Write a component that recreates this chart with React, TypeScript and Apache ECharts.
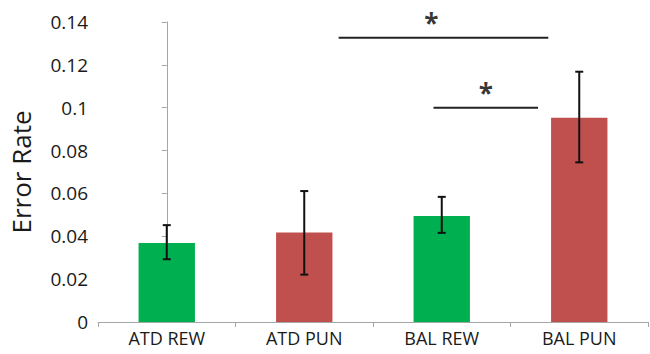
import React, { useEffect, useRef } from "react";
import * as echarts from "echarts";

const categories = ["ATD REW", "ATD PUN", "BAL REW", "BAL PUN"];
const means = [0.0369, 0.0418, 0.0495, 0.0953];
const errLow = [0.0293, 0.0221, 0.0416, 0.0745];
const errHigh = [0.0452, 0.0611, 0.0584, 0.1168];
const barColors = ["#00B050", "#C0504D", "#00B050", "#C0504D"];
const yTicks = { min: 0, max: 0.14, interval: 0.02 };
// significance brackets: [xStart, xEnd, y] in category-index units
const sigLines = [
  [1.25, 2.775, 0.1327],
  [1.94, 2.7, 0.1],
];
const sigStars = [
  [1.925, 0.1327],
  [2.32, 0.1],
];

const FONT = "Open Sans";

export default function App() {
  const ref = useRef<HTMLDivElement>(null);
  useEffect(() => {
    if (!ref.current) return;
    const chart = echarts.init(ref.current, null, { renderer: "svg" });
    const option: any = {
      animation: false,
      backgroundColor: "#ffffff",
      grid: { left: 97, right: 2, top: 22, bottom: 32, containLabel: false },
      xAxis: [
        {
          type: "category",
          data: categories,
          axisLine: { lineStyle: { color: "#A6A6A6", width: 1 } },
          axisTick: { show: true, length: 5, lineStyle: { color: "#A6A6A6" } },
          axisLabel: { color: "#1a1a1a", fontSize: 18, fontFamily: FONT, margin: 7 },
        },
        { type: "value", min: -0.5, max: 3.5, show: false },
      ],
      yAxis: {
        type: "value",
        min: yTicks.min,
        max: yTicks.max,
        interval: yTicks.interval,
        name: "Error Rate",
        nameLocation: "middle",
        nameGap: 64,
        nameTextStyle: { color: "#1a1a1a", fontSize: 26, fontFamily: FONT },
        axisLine: { show: true, lineStyle: { color: "#A6A6A6" } },
        axisTick: { show: true, length: 5, lineStyle: { color: "#A6A6A6" } },
        splitLine: { show: false },
        axisLabel: {
          color: "#1a1a1a",
          fontSize: 19,
          fontFamily: FONT,
          margin: 10,
          formatter: (v: number) => String(parseFloat(v.toFixed(2))),
        },
      },
      series: [
        {
          type: "bar",
          data: means.map((v, i) => ({ value: v, itemStyle: { color: barColors[i] } })),
          barWidth: "41%",
        },
        {
          type: "custom",
          xAxisIndex: 0,
          data: categories.map((_, i) => [i, errLow[i], errHigh[i]]),
          renderItem: (params: any, api: any) => {
            const x = api.value(0);
            const lo = api.coord([x, api.value(1)]);
            const hi = api.coord([x, api.value(2)]);
            const hw = 4;
            const style = { stroke: "#111", lineWidth: 2 };
            return {
              type: "group",
              children: [
                { type: "line", shape: { x1: lo[0], y1: lo[1], x2: hi[0], y2: hi[1] }, style },
                { type: "line", shape: { x1: lo[0] - hw, y1: lo[1], x2: lo[0] + hw, y2: lo[1] }, style },
                { type: "line", shape: { x1: hi[0] - hw, y1: hi[1], x2: hi[0] + hw, y2: hi[1] }, style },
              ],
            };
          },
          z: 5,
        },
        ...sigLines.map((s) => ({
          type: "line",
          xAxisIndex: 1,
          data: [
            [s[0], s[2]],
            [s[1], s[2]],
          ],
          symbol: "none",
          lineStyle: { color: "#222", width: 2 },
        })),
        {
          type: "scatter",
          xAxisIndex: 1,
          clip: false,
          symbolSize: 1,
          itemStyle: { color: "transparent" },
          data: sigStars,
          label: {
            show: true,
            formatter: "*",
            position: "top",
            distance: 1,
            fontSize: 26,
            fontWeight: "bold",
            fontFamily: FONT,
            color: "#000",
          },
        },
      ],
    };
    chart.setOption(option);
    return () => chart.dispose();
  }, []);
  return (
    <div
      ref={ref}
      style={{ position: "absolute", left: 0, top: 0, width: 650, height: 354 }}
    />
  );
}
